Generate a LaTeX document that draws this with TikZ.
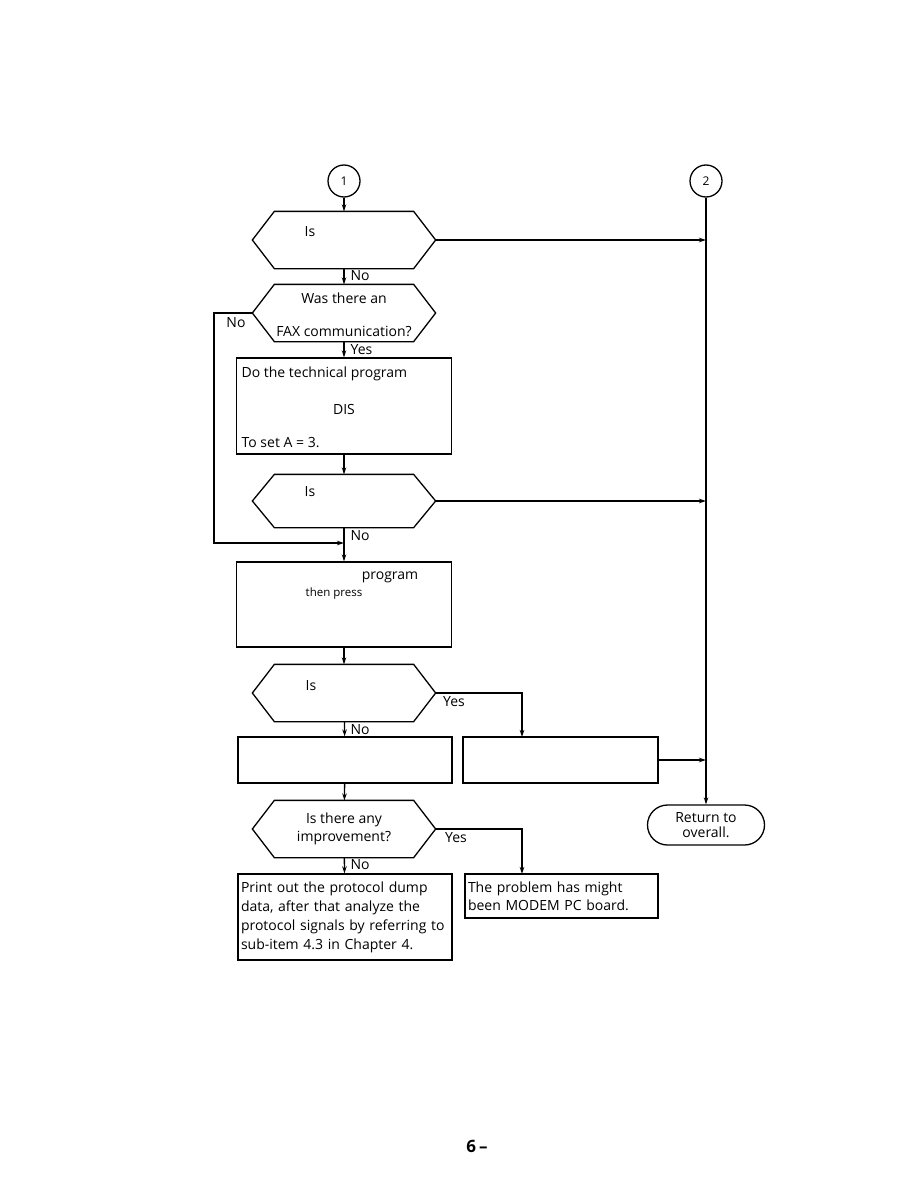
\documentclass[tikz,border=0pt]{standalone}
\usepackage{fontspec}
\setmainfont{Open Sans}
\usetikzlibrary{arrows.meta, positioning, calc}

% hexagon outline round a decision node
\newcommand{\hexout}[2]{%
  \draw (#1.west) -- ([xshift=#2]#1.north west) -- ([xshift=-#2]#1.north east)
    -- (#1.east) -- ([xshift=-#2]#1.south east) -- ([xshift=#2]#1.south west) -- cycle;}

\begin{document}
\begin{tikzpicture}[x=1pt, y=-1pt, line width=1.3pt,
  flow/.style={-{Stealth[length=7pt, width=4.5pt]}},
  txt/.style={font=\fontsize{14}{19}\selectfont, inner sep=1pt},
  decision/.style={rectangle, minimum width=182pt, inner sep=0pt, align=center, txt},
  procbox/.style={draw, rectangle, inner sep=0pt},
  connector/.style={draw, circle, minimum size=32pt, inner sep=0pt, font=\fontsize{12}{14}\selectfont},
  terminal/.style={draw, rectangle, rounded corners=20pt, minimum width=117pt, minimum height=40pt, align=center, font=\fontsize{14}{15}\selectfont}]

  \useasboundingbox (0,0) rectangle (918,1188);

  % connectors
  \node[connector] (c1) at (344,181) {1};
  \node[connector] (c2) at (706,181) {2};

  % decisions
  \node[decision, minimum height=56pt] (d1) at (344,240) {};
  \hexout{d1}{22pt}
  \node[txt, anchor=west] (d1t) at (303,232) {Is};

  \node[decision, minimum height=56pt] (d2) at (344,313) {};
  \hexout{d2}{22pt}
  \node[txt] (d2a) at (344,298) {Was there an};
  \node[txt] (d2b) at (344,331) {FAX communication?};

  % technical program box
  \node[procbox, minimum width=215pt, minimum height=96pt] (b3) at (344,406) {};
  \node[txt, anchor=west] (b3a) at (240,374) {Do the technical program};
  \node[txt] (b3b) at (344,409) {DIS};
  \node[txt, anchor=west] (b3c) at (240,443) {To set A = 3.};

  \node[decision, minimum height=52pt] (d4) at (344,501) {};
  \hexout{d4}{22pt}
  \node[txt, anchor=west] (d4t) at (303,492) {Is};

  \node[procbox, minimum width=215pt, minimum height=85pt] (b5) at (344,604.5) {};
  \node[txt] (b5a) at (390,577) {program};
  \node[txt, font=\fontsize{11.5}{13}\selectfont] (b5b) at (334,594) {then press};

  \node[decision, minimum height=56pt] (d6) at (344,693) {};
  \hexout{d6}{22pt}
  \node[txt, anchor=west] (d6t) at (304,686) {Is};

  \node[procbox, minimum width=214pt, minimum height=46pt] (b7a) at (345,760) {};
  \node[procbox, minimum width=195pt, minimum height=46pt] (b7b) at (560.5,760) {};

  \node[decision, minimum height=56pt, font=\fontsize{14}{18}\selectfont] (d8) at (344,829) {Is there any\\improvement?};
  \hexout{d8}{22pt}

  % result boxes
  \node[procbox, minimum width=214pt, minimum height=86pt, text width=208pt, align=left, txt] (b9) at (345,917)
    {Print out the protocol dump\\data, after that analyze the\\protocol signals by referring to\\sub-item 4.3 in Chapter 4.};
  \node[procbox, minimum width=193pt, minimum height=44pt, text width=187pt, align=left, txt, font=\fontsize{14}{18}\selectfont] (b10) at (561.5,896)
    {The problem has might\\been MODEM PC board.};

  \node[terminal] (ret) at (706,825) {Return to\\overall.};

  % free ends
  \coordinate (m1) at (344,543);
  \coordinate (lp) at (214,543);
  \coordinate (drop6) at (522,737);
  \coordinate (drop8) at (522,874);

  % flow lines
  \draw[flow] (c1) -- (d1);
  \draw[flow] (d1) -- (d2);
  \draw[flow] (d2) -- (b3);
  \draw[flow] (b3) -- (d4);
  \draw[flow] (d4) -- (b5);
  \draw[flow] (d2.west) -| (lp) -- (m1);
  \draw[flow] (b5) -- (d6);
  \draw[flow] (d6) -- (b7a);
  \draw[flow] (d6.east) -| (drop6);
  \draw[flow] (b7a) -- (d8);
  \draw[flow] (d8) -- (b9);
  \draw[flow] (d8.east) -| (drop8);

  % return line
  \draw[flow] (c2) -- (ret);
  \draw[flow] (d1.east) -- (d1.east -| c2);
  \draw[flow] (d4.east) -- (d4.east -| c2);
  \draw[flow] (b7b.east) -- (b7b.east -| c2);

  % branch labels
  \node[txt, anchor=west] (n1) at (349,276) {No};
  \node[txt] (n2) at (236,323) {No};
  \node[txt, anchor=west] (y2) at (349,350) {Yes};
  \node[txt, anchor=west] (n4) at (349,536) {No};
  \node[txt] (y6) at (454,702) {Yes};
  \node[txt, anchor=west] (n6) at (349,730) {No};
  \node[txt] (y8) at (456,838) {Yes};
  \node[txt, anchor=west] (n8) at (349,865) {No};

  % page number
  \node[font=\fontsize{17}{20}\selectfont\bfseries] (pg) at (477,1146) {6\,–};

\end{tikzpicture}
\end{document}
